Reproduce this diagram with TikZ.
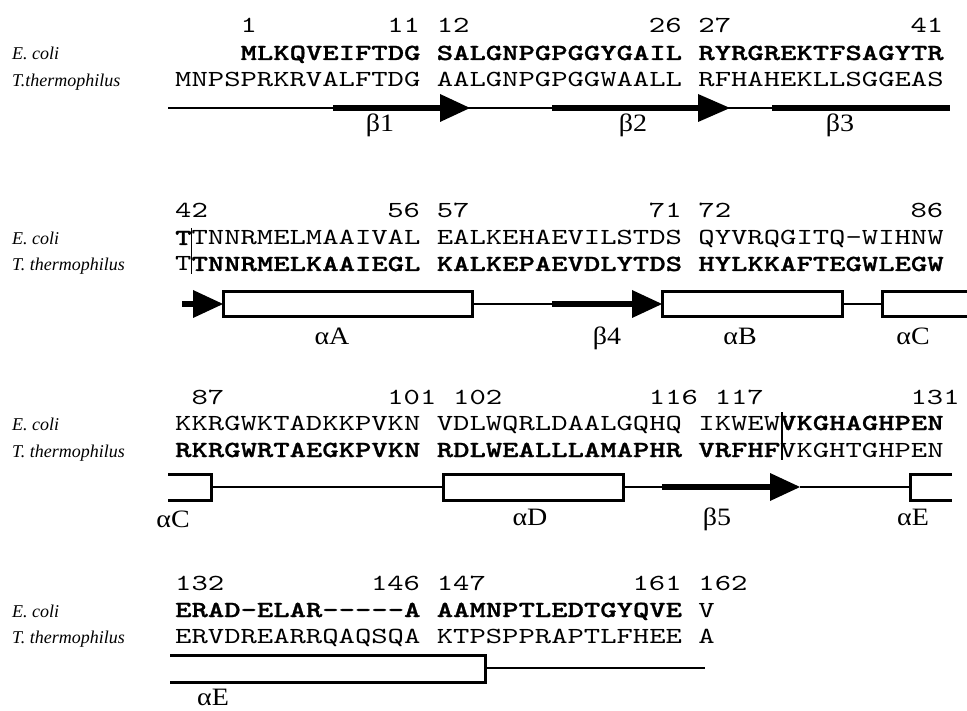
\documentclass[tikz,border=0pt]{standalone}
\usepackage{fontspec}
\newfontfamily\seqf{lmmono10-regular.otf}[BoldFont=lmmonolt10-bold.otf, BoldFeatures={FakeBold=1.2}, FakeStretch=1.354, Ligatures=TeXOff]
\newfontfamily\labf{Liberation Serif}
\newfontfamily\grkf{Liberation Serif}[FakeStretch=1.12]
\newcommand\SQ{\seqf\fontsize{23}{23}\selectfont}
\newcommand\LB{\labf\itshape\fontsize{18}{18}\selectfont}
\newcommand\GK{\grkf\fontsize{25}{25}\selectfont}
\begin{document}
\begin{tikzpicture}[x=1pt,y=-1pt,
  seq/.style={inner sep=0pt, anchor=base west, font=\SQ},
  nume/.style={inner sep=0pt, anchor=base east, font=\SQ},
  lab/.style={inner sep=0pt, anchor=base west, font=\LB},
  glab/.style={inner sep=0pt, anchor=base, font=\GK},
  thinl/.style={line width=1.5pt},
  strand/.style={line width=5.5pt},
  head/.style={fill=black},
  helix/.style={draw, line width=3pt, fill=white, line join=miter},
  helixopen/.style={line width=3pt, line join=miter},
  divider/.style={line width=1.5pt}]
\useasboundingbox (0,0) rectangle (967,711);
\fill[white] (0,0) rectangle (967,711);

% ---------------- Block 1 ----------------
\node[lab] (l1a) at (12,60) {E. coli};
\node[lab] (l1b) at (12,87) {T.thermophilus};
\node[seq] (n1) at ({175+16.35*4},33) {1};
\node[nume] (n11) at ({175+16.35*15},33) {11};
\node[seq] (n12) at ({175+16.35*16},33) {12};
\node[nume] (n26) at ({175+16.35*31},33) {26};
\node[seq] (n27) at ({175+16.35*32},33) {27};
\node[nume] (n41) at ({175+16.35*47},33) {41};
\node[seq] (e1a) at ({175+16.35*4},60) {\bfseries MLKQVEIFTDG};
\node[seq] (e1b) at ({175+16.35*16},60) {\bfseries SALGNPGPGGYGAIL};
\node[seq] (e1c) at ({175+16.35*32},60) {\bfseries RYRGREKTFSAGYTR};
\node[seq] (t1a) at ({175+16.35*0},87) {MNPSPRKRVALFTDG};
\node[seq] (t1b) at ({175+16.35*16},87) {AALGNPGPGGWAALL};
\node[seq] (t1c) at ({175+16.35*32},87) {RFHAHEKLLSGGEAS};
\draw[thinl] (168,108) -- (950,108);
\draw[strand] (333,108) -- (441,108);
\fill[head] (440,94) -- (470,108) -- (440,122) -- cycle;
\draw[strand] (552,108) -- (699,108);
\fill[head] (698,94) -- (730,108) -- (698,122) -- cycle;
\draw[strand] (772,108) -- (950,108);
\node[glab] (b1) at (380,132) {β1};
\node[glab] (b2) at (633,132) {β2};
\node[glab] (b3) at (840,132) {β3};

% ---------------- Block 2 ----------------
\node[lab] (l2a) at (12,245) {E. coli};
\node[lab] (l2b) at (12,271) {T. thermophilus};
\node[seq] (n42) at ({175+16.35*0},218) {42};
\node[nume] (n56) at ({175+16.35*15},218) {56};
\node[seq] (n57) at ({175+16.35*16},218) {57};
\node[nume] (n71) at ({175+16.35*31},218) {71};
\node[seq] (n72) at ({175+16.35*32},218) {72};
\node[nume] (n86) at ({175+16.35*47},218) {86};
\node[seq] (e2a) at ({175+16.35*0},245) {{\bfseries T}TNNRMELMAAIVAL};
\node[seq] (e2b) at ({175+16.35*16},245) {EALKEHAEVILSTDS};
\node[seq] (e2c) at ({175+16.35*32},245) {QYVRQGITQ-WIHNW};
\node[seq] (t2a) at ({175+16.35*0},271) {T\bfseries TNNRMELKAAIEGL};
\node[seq] (t2b) at ({175+16.35*16},271) {\bfseries KALKEPAEVDLYTDS};
\node[seq] (t2c) at ({175+16.35*32},271) {\bfseries HYLKKAFTEGWLEGW};
\draw[divider] (191.5,228) -- (191.5,274);
\draw[strand] (182,304) -- (194,304);
\fill[head] (193,290) -- (223,304) -- (193,318) -- cycle;
\draw[thinl] (472,304) -- (552,304);
\draw[strand] (552,304) -- (633,304);
\fill[head] (632,290) -- (662,304) -- (632,318) -- cycle;
\draw[thinl] (842,304) -- (882,304);
\draw[helix] (223,292) rectangle (472,317);
\draw[helix] (662,292) rectangle (842,317);
\draw[helixopen] (967,292) -- (882,292) -- (882,317) -- (967,317);
\node[glab] (a2a) at (332,345) {αA};
\node[glab] (b4) at (607,345) {β4};
\node[glab] (a2b) at (740,345) {αB};
\node[glab] (a2c) at (913,345) {αC};

% ---------------- Block 3 ----------------
\node[lab] (l3a) at (12,430) {E. coli};
\node[lab] (l3b) at (12,457) {T. thermophilus};
\node[seq] (n87) at ({175+16.35*1},405) {87};
\node[nume] (n101) at ({175+16.35*16},405) {101};
\node[seq] (n102) at ({175+16.35*17},405) {102};
\node[nume] (n116) at ({175+16.35*32},405) {116};
\node[seq] (n117) at ({175+16.35*33},405) {117};
\node[nume] (n131) at ({175+16.35*48},405) {131};
\node[seq] (e3a) at ({175+16.35*0},430) {KKRGWKTADKKPVKN};
\node[seq] (e3b) at ({175+16.35*16},430) {VDLWQRLDAALGQHQ};
\node[seq] (e3c) at ({175+16.35*32},430) {IKWEW\bfseries VKGHAGHPEN};
\node[seq] (t3a) at ({175+16.35*0},457) {\bfseries RKRGWRTAEGKPVKN};
\node[seq] (t3b) at ({175+16.35*16},457) {\bfseries RDLWEALLLAMAPHR};
\node[seq] (t3c) at ({175+16.35*32},457) {{\bfseries VRFHF}VKGHTGHPEN};
\draw[divider] (782,412) -- (782,460);
\draw[thinl] (211,487) -- (443,487);
\draw[thinl] (623,487) -- (662,487);
\draw[strand] (662,487) -- (771,487);
\fill[head] (770,473) -- (800,487) -- (770,501) -- cycle;
\draw[thinl] (800,487) -- (910,487);
\draw[helixopen] (168,474) -- (211,474) -- (211,500) -- (168,500);
\draw[helix] (443,474) rectangle (623,500);
\draw[helixopen] (952,474) -- (910,474) -- (910,500) -- (952,500);
\node[glab] (a3c) at (173,527) {αC};
\node[glab] (a3d) at (530,525) {αD};
\node[glab] (b5) at (717,525) {β5};
\node[glab] (a3e) at (913,525) {αE};

% ---------------- Block 4 ----------------
\node[lab] (l4a) at (12,617) {E. coli};
\node[lab] (l4b) at (12,643) {T. thermophilus};
\node[seq] (n132) at ({175+16.35*0},590) {132};
\node[nume] (n146) at ({175+16.35*15},590) {146};
\node[seq] (n147) at ({175+16.35*16},590) {147};
\node[nume] (n161) at ({175+16.35*31},590) {161};
\node[seq] (n162) at ({175+16.35*32},590) {162};
\node[seq] (e4a) at ({175+16.35*0},617) {\bfseries ERAD-ELAR-----A};
\node[seq] (e4b) at ({175+16.35*16},617) {\bfseries AAMNPTLEDTGYQVE};
\node[seq] (e4c) at ({175+16.35*32},617) {V};
\node[seq] (t4a) at ({175+16.35*0},643) {ERVDREARRQAQSQA};
\node[seq] (t4b) at ({175+16.35*16},643) {KTPSPPRAPTLFHEE};
\node[seq] (t4c) at ({175+16.35*32},643) {A};
\draw[thinl] (485,668) -- (705,668);
\draw[helixopen] (170,655) -- (485,655) -- (485,682) -- (170,682);
\node[glab] (a4e) at (213,705) {αE};
\end{tikzpicture}
\end{document}
